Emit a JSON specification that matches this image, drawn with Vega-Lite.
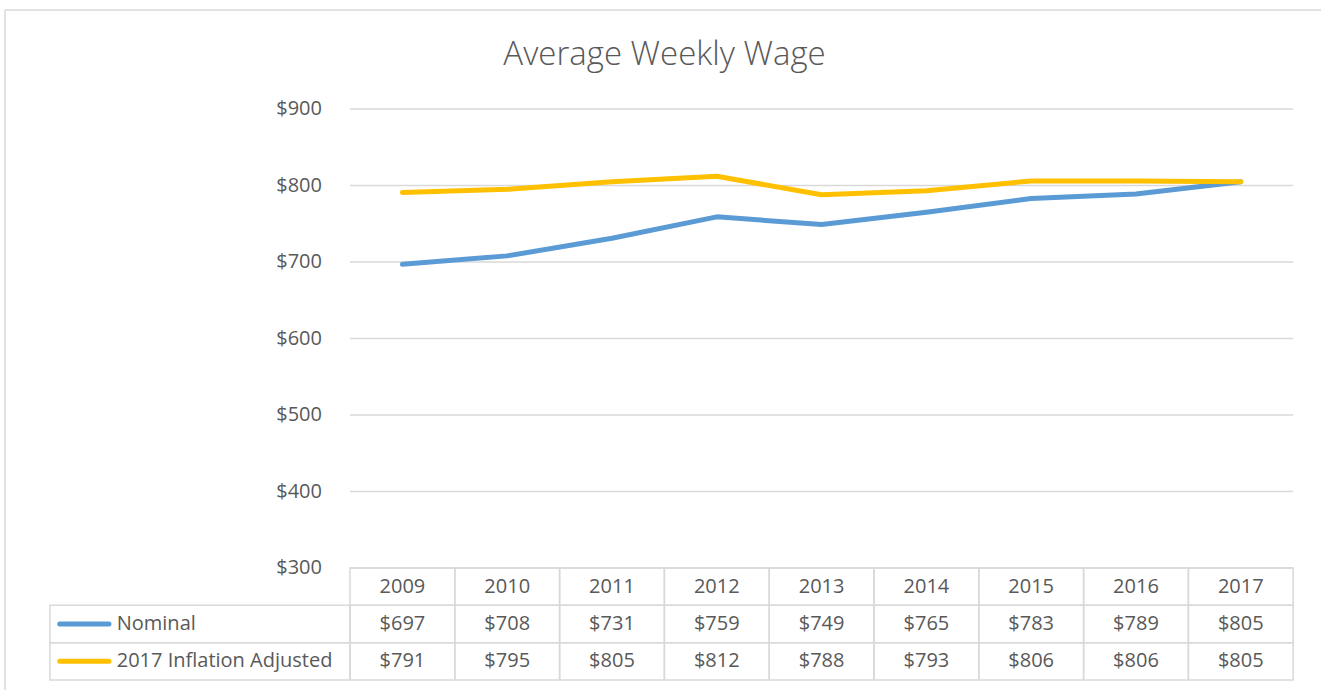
{
  "$schema": "https://vega.github.io/schema/vega-lite/v6.json",
  "width": 1319,
  "height": 683,
  "autosize": {"type": "none"},
  "padding": {"left": 5, "top": 10, "right": -3, "bottom": -3},
  "background": "white",
  "config": {
    "view": {"stroke": null},
    "font": "Open Sans"
  },
  "title": {
    "text": "Average Weekly Wage",
    "fontSize": 33,
    "fontWeight": 300,
    "font": "Open Sans",
    "color": "#595959",
    "anchor": "middle",
    "offset": -63
  },
  "datasets": {
    "wages": [
      {"year": 2009, "series": "Nominal", "value": 697},
      {"year": 2010, "series": "Nominal", "value": 708},
      {"year": 2011, "series": "Nominal", "value": 731},
      {"year": 2012, "series": "Nominal", "value": 759},
      {"year": 2013, "series": "Nominal", "value": 749},
      {"year": 2014, "series": "Nominal", "value": 765},
      {"year": 2015, "series": "Nominal", "value": 783},
      {"year": 2016, "series": "Nominal", "value": 789},
      {"year": 2017, "series": "Nominal", "value": 805},
      {"year": 2009, "series": "2017 Inflation Adjusted", "value": 791},
      {"year": 2010, "series": "2017 Inflation Adjusted", "value": 795},
      {"year": 2011, "series": "2017 Inflation Adjusted", "value": 805},
      {"year": 2012, "series": "2017 Inflation Adjusted", "value": 812},
      {"year": 2013, "series": "2017 Inflation Adjusted", "value": 788},
      {"year": 2014, "series": "2017 Inflation Adjusted", "value": 793},
      {"year": 2015, "series": "2017 Inflation Adjusted", "value": 806},
      {"year": 2016, "series": "2017 Inflation Adjusted", "value": 806},
      {"year": 2017, "series": "2017 Inflation Adjusted", "value": 805}
    ],
    "years": [
      {"year": 2009}, {"year": 2010}, {"year": 2011}, {"year": 2012}, {"year": 2013},
      {"year": 2014}, {"year": 2015}, {"year": 2016}, {"year": 2017}
    ],
    "grid": [
      {"value": 300}, {"value": 400}, {"value": 500}, {"value": 600},
      {"value": 700}, {"value": 800}, {"value": 900}
    ],
    "series": [
      {"series": "Nominal"},
      {"series": "2017 Inflation Adjusted"}
    ],
    "frame": [{"edge": "frame"}]
  },
  "resolve": {"scale": {"y": "independent"}},
  "layer": [
    {
      "data": {"name": "frame"},
      "mark": {"type": "rule", "color": "#d9d9d9", "strokeWidth": 1.5},
      "encoding": {
        "x": {"datum": 2005.208, "type": "quantitative", "scale": {"domain": [2005.208, 2017.794], "nice": false, "zero": false}, "axis": null}
      }
    },
    {
      "data": {"name": "frame"},
      "mark": {"type": "rule", "color": "#d9d9d9", "strokeWidth": 1.5},
      "encoding": {
        "y": {"datum": 1029.41, "type": "quantitative", "scale": {"domain": [300, 900], "range": [558, 99], "nice": false, "zero": false}, "axis": null}
      }
    },
    {
      "data": {"name": "grid"},
      "mark": {"type": "rule", "color": "#d9d9d9", "strokeWidth": 1.5},
      "encoding": {
        "x": {"datum": 2008.5, "type": "quantitative", "scale": {"domain": [2005.208, 2017.794], "nice": false, "zero": false}, "axis": null},
        "x2": {"datum": 2017.5},
        "y": {"field": "value", "type": "quantitative", "scale": {"domain": [300, 900], "range": [558, 99], "nice": false, "zero": false}, "axis": null}
      }
    },
    {
      "data": {"name": "grid"},
      "mark": {"type": "text", "align": "right", "baseline": "middle", "dx": -28, "fontSize": 20, "color": "#595959", "font": "Open Sans"},
      "encoding": {
        "x": {"datum": 2008.5, "type": "quantitative", "scale": {"domain": [2005.208, 2017.794], "nice": false, "zero": false}, "axis": null},
        "y": {"field": "value", "type": "quantitative", "scale": {"domain": [300, 900], "range": [558, 99], "nice": false, "zero": false}, "axis": null},
        "text": {"field": "value", "type": "quantitative", "format": "$.0f"}
      }
    },
    {
      "data": {"name": "wages"},
      "mark": {"type": "line", "strokeWidth": 5, "strokeCap": "round", "strokeJoin": "round"},
      "encoding": {
        "x": {"field": "year", "type": "quantitative", "scale": {"domain": [2005.208, 2017.794], "nice": false, "zero": false}, "axis": null},
        "y": {"field": "value", "type": "quantitative", "scale": {"domain": [300, 900], "range": [558, 99], "nice": false, "zero": false}, "axis": null},
        "color": {"field": "series", "type": "nominal", "scale": {"domain": ["Nominal", "2017 Inflation Adjusted"], "range": ["#5B9BD5", "#FFC000"]}, "legend": null}
      }
    },
    {
      "data": {"name": "years"},
      "mark": {"type": "rect", "fill": "transparent", "stroke": "#d9d9d9", "strokeWidth": 1.5, "xOffset": -52.4, "x2Offset": 52.4},
      "encoding": {
        "x": {"field": "year", "type": "quantitative", "scale": {"domain": [2005.208, 2017.794], "nice": false, "zero": false}, "axis": null},
        "x2": {"field": "year"},
        "y": {"datum": "Year", "type": "nominal", "scale": {"type": "band", "domain": ["Year", "Nominal", "2017 Inflation Adjusted"], "range": [558, 670], "paddingInner": 0, "paddingOuter": 0}, "axis": null}
      }
    },
    {
      "data": {"name": "years"},
      "mark": {"type": "text", "align": "center", "baseline": "middle", "fontSize": 20, "color": "#595959", "font": "Open Sans"},
      "encoding": {
        "x": {"field": "year", "type": "quantitative", "scale": {"domain": [2005.208, 2017.794], "nice": false, "zero": false}, "axis": null},
        "y": {"datum": "Year", "type": "nominal", "scale": {"type": "band", "domain": ["Year", "Nominal", "2017 Inflation Adjusted"], "range": [558, 670], "paddingInner": 0, "paddingOuter": 0}, "axis": null, "bandPosition": 0.5},
        "text": {"field": "year", "type": "nominal"}
      }
    },
    {
      "data": {"name": "wages"},
      "mark": {"type": "rect", "fill": "transparent", "stroke": "#d9d9d9", "strokeWidth": 1.5, "xOffset": -52.4, "x2Offset": 52.4},
      "encoding": {
        "x": {"field": "year", "type": "quantitative", "scale": {"domain": [2005.208, 2017.794], "nice": false, "zero": false}, "axis": null},
        "x2": {"field": "year"},
        "y": {"field": "series", "type": "nominal", "scale": {"type": "band", "domain": ["Year", "Nominal", "2017 Inflation Adjusted"], "range": [558, 670], "paddingInner": 0, "paddingOuter": 0}, "axis": null}
      }
    },
    {
      "data": {"name": "wages"},
      "mark": {"type": "text", "align": "center", "baseline": "middle", "fontSize": 20, "color": "#595959", "font": "Open Sans"},
      "encoding": {
        "x": {"field": "year", "type": "quantitative", "scale": {"domain": [2005.208, 2017.794], "nice": false, "zero": false}, "axis": null},
        "y": {"field": "series", "type": "nominal", "scale": {"type": "band", "domain": ["Year", "Nominal", "2017 Inflation Adjusted"], "range": [558, 670], "paddingInner": 0, "paddingOuter": 0}, "axis": null, "bandPosition": 0.5},
        "text": {"field": "value", "type": "quantitative", "format": "$.0f"}
      }
    },
    {
      "data": {"name": "series"},
      "mark": {"type": "rect", "fill": "transparent", "stroke": "#d9d9d9", "strokeWidth": 1.5},
      "encoding": {
        "x": {"datum": 2005.637, "type": "quantitative", "scale": {"domain": [2005.208, 2017.794], "nice": false, "zero": false}, "axis": null},
        "x2": {"datum": 2008.5},
        "y": {"field": "series", "type": "nominal", "scale": {"type": "band", "domain": ["Year", "Nominal", "2017 Inflation Adjusted"], "range": [558, 670], "paddingInner": 0, "paddingOuter": 0}, "axis": null}
      }
    },
    {
      "data": {"name": "series"},
      "mark": {"type": "rule", "strokeWidth": 5, "strokeCap": "round"},
      "encoding": {
        "x": {"datum": 2005.73, "type": "quantitative", "scale": {"domain": [2005.208, 2017.794], "nice": false, "zero": false}, "axis": null},
        "x2": {"datum": 2006.2},
        "y": {"field": "series", "type": "nominal", "scale": {"type": "band", "domain": ["Year", "Nominal", "2017 Inflation Adjusted"], "range": [558, 670], "paddingInner": 0, "paddingOuter": 0}, "axis": null, "bandPosition": 0.5},
        "color": {"field": "series", "type": "nominal", "scale": {"domain": ["Nominal", "2017 Inflation Adjusted"], "range": ["#5B9BD5", "#FFC000"]}, "legend": null}
      }
    },
    {
      "data": {"name": "series"},
      "mark": {"type": "text", "align": "left", "baseline": "middle", "fontSize": 20, "color": "#595959", "font": "Open Sans"},
      "encoding": {
        "x": {"datum": 2006.274, "type": "quantitative", "scale": {"domain": [2005.208, 2017.794], "nice": false, "zero": false}, "axis": null},
        "y": {"field": "series", "type": "nominal", "scale": {"type": "band", "domain": ["Year", "Nominal", "2017 Inflation Adjusted"], "range": [558, 670], "paddingInner": 0, "paddingOuter": 0}, "axis": null, "bandPosition": 0.5},
        "text": {"field": "series", "type": "nominal"}
      }
    }
  ]
}
